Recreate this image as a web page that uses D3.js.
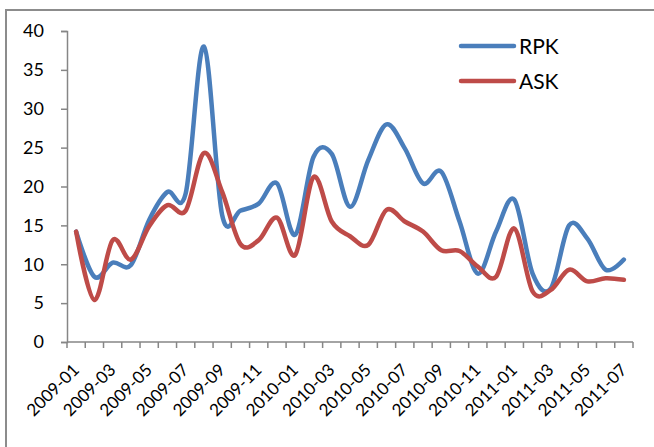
<!DOCTYPE html>
<html>
<head>
<meta charset="utf-8">
<script src="https://cdn.jsdelivr.net/npm/d3@7"></script>
<style>
  html, body { margin: 0; padding: 0; background: #fff; }
  svg { display: block; }
  text { font-family: Lato, "Open Sans", sans-serif; fill: #000; }
</style>
</head>
<body>
<svg id="chart" width="654" height="447"></svg>
<script>
// Monthly categories, 2009-01 .. 2011-07
const months = [
  "2009-01","2009-02","2009-03","2009-04","2009-05","2009-06","2009-07","2009-08",
  "2009-09","2009-10","2009-11","2009-12","2010-01","2010-02","2010-03","2010-04",
  "2010-05","2010-06","2010-07","2010-08","2010-09","2010-10","2010-11","2010-12",
  "2011-01","2011-02","2011-03","2011-04","2011-05","2011-06","2011-07"
];

// Growth rates (%)
const rpk = [14.2, 8.4, 10.2, 9.9, 15.7, 19.3, 19.1, 38.0,
             16.3, 16.9, 17.8, 20.4, 13.8, 23.8, 24.2, 17.4,
             23.4, 28.0, 24.9, 20.4, 21.9, 15.5, 8.8, 14.2,
             18.3, 8.8, 6.9, 15.0, 13.3, 9.3, 10.6];
const ask = [14.2, 5.4, 13.1, 10.6, 14.9, 17.6, 16.9, 24.3,
             19.3, 12.6, 13.1, 16.0, 11.2, 21.2, 15.5, 13.6,
             12.5, 17.0, 15.5, 14.2, 11.8, 11.7, 9.7, 8.4,
             14.6, 6.5, 6.7, 9.3, 7.8, 8.2, 8.0];

const yTicks = [0, 5, 10, 15, 20, 25, 30, 35, 40];
const seriesNames = ["RPK", "ASK"];
const seriesColors = ["#4A7EBB", "#BE4B48"];

const svg = d3.select("#chart");

// Outer chart-area frame
svg.append("rect")
  .attr("x", 6).attr("y", 10)
  .attr("width", 700).attr("height", 500)
  .attr("fill", "none")
  .attr("stroke", "#8c8c8c")
  .attr("stroke-width", 2);

const plot = { left: 67, right: 633, top: 31, bottom: 342 };

const x = d3.scaleBand().domain(months).range([plot.left, plot.right]).paddingInner(0).paddingOuter(0);
const y = d3.scaleLinear().domain([0, 40]).range([plot.bottom, plot.top]);
const axisColor = "#868686";

// Y axis
const yAxis = svg.append("g")
  .attr("transform", `translate(${plot.left},0)`)
  .call(d3.axisLeft(y).tickValues(yTicks).tickSize(6).tickPadding(17).tickFormat(d3.format("d")));
yAxis.select(".domain").attr("stroke", axisColor).attr("stroke-width", 1.5);
yAxis.selectAll(".tick line").attr("stroke", axisColor).attr("stroke-width", 1.5);
yAxis.selectAll(".tick text").attr("font-size", 18).attr("font-family", "Lato, sans-serif").attr("fill", "#000");

// X axis: tick marks on category boundaries
const xg = svg.append("g");
xg.append("line")
  .attr("x1", plot.left).attr("x2", plot.right)
  .attr("y1", plot.bottom).attr("y2", plot.bottom)
  .attr("stroke", axisColor).attr("stroke-width", 1.5);
const boundaries = months.map(m => x(m)).concat([x(months[months.length - 1]) + x.bandwidth()]);
xg.selectAll("line.tk").data(boundaries).enter().append("line")
  .attr("class", "tk")
  .attr("x1", d => d).attr("x2", d => d)
  .attr("y1", plot.bottom).attr("y2", plot.bottom + 6)
  .attr("stroke", axisColor).attr("stroke-width", 1.5);

// Rotated labels for every second month
const cx = m => x(m) + x.bandwidth() / 2;
xg.selectAll("text.xl").data(months.filter((m, i) => i % 2 === 0)).enter().append("text")
  .attr("class", "xl")
  .attr("text-anchor", "end")
  .attr("font-size", 17)
  .attr("transform", d => `translate(${cx(d) + 4},${plot.bottom + 29}) rotate(-45)`)
  .text(d => d);

// Smoothed lines
const line = d3.line()
  .x((d, i) => cx(months[i]))
  .y(d => y(d))
  .curve(d3.curveCatmullRom.alpha(0));

[rpk, ask].forEach((vals, k) => {
  svg.append("path")
    .datum(vals)
    .attr("d", line)
    .attr("fill", "none")
    .attr("stroke", seriesColors[k])
    .attr("stroke-width", 4.5)
    .attr("stroke-linejoin", "round")
    .attr("stroke-linecap", "round");
});

// Legend
const legend = svg.append("g");
seriesNames.forEach((name, k) => {
  const ly = 46 + k * 35;
  legend.append("line")
    .attr("x1", 461).attr("x2", 514)
    .attr("y1", ly).attr("y2", ly)
    .attr("stroke", seriesColors[k])
    .attr("stroke-width", 4.5)
    .attr("stroke-linecap", "round");
  legend.append("text")
    .attr("x", 519).attr("y", ly + 7.5)
    .attr("font-size", 21)
    .text(name);
});
</script>
</body>
</html>
